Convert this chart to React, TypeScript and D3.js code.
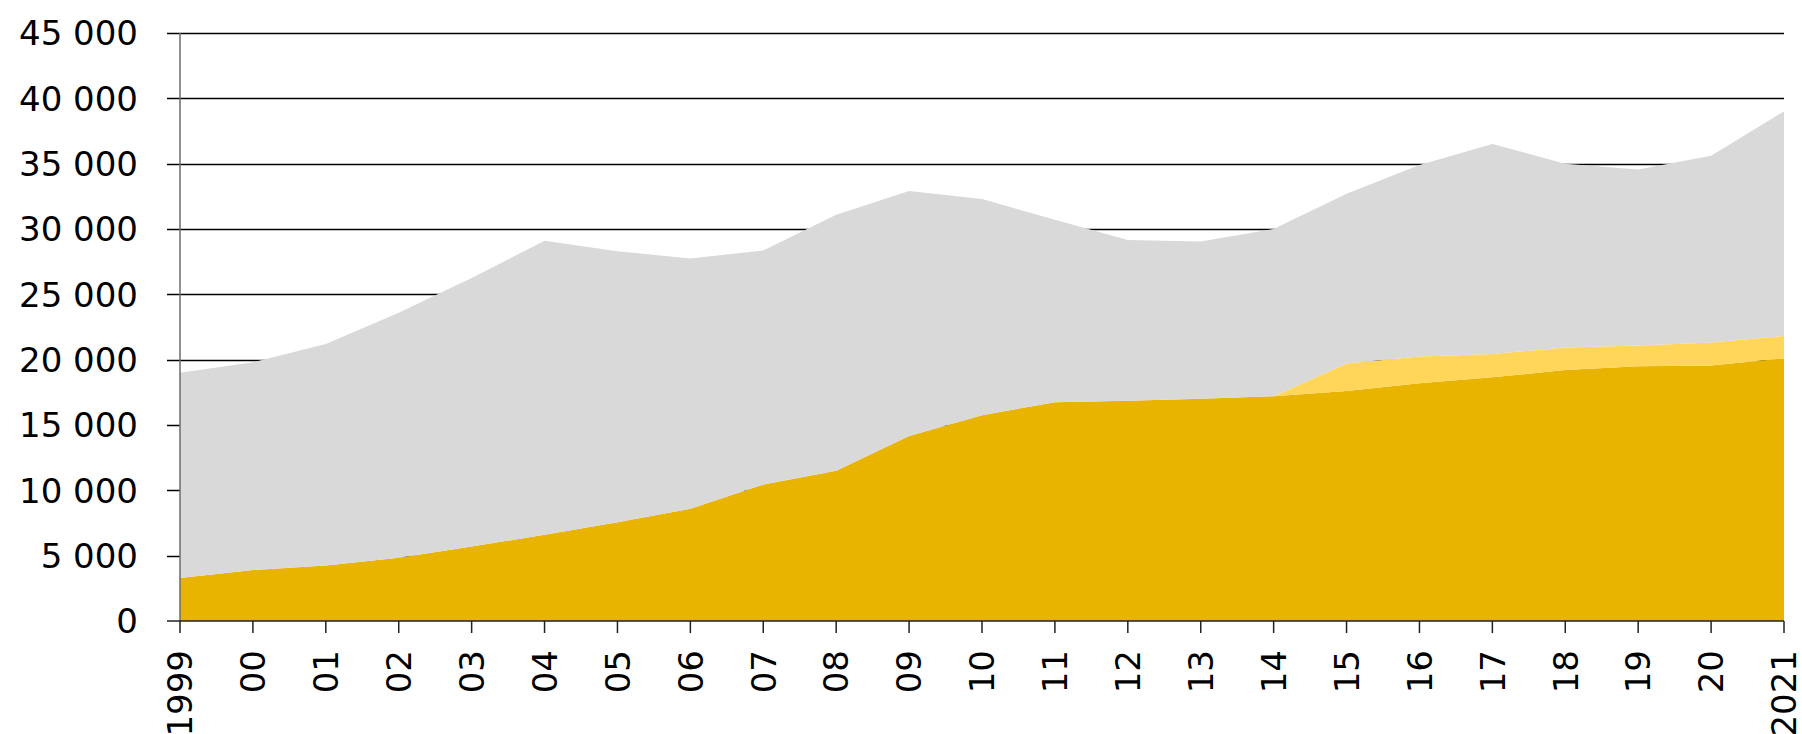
import { useEffect, useRef } from "react";
import * as d3 from "d3";

// years on the x axis
const years = [
  1999, 2000, 2001, 2002, 2003, 2004, 2005, 2006, 2007, 2008, 2009, 2010,
  2011, 2012, 2013, 2014, 2015, 2016, 2017, 2018, 2019, 2020, 2021,
];
const yearLabels = [
  "1999", "00", "01", "02", "03", "04", "05", "06", "07", "08", "09", "10",
  "11", "12", "13", "14", "15", "16", "17", "18", "19", "20", "2021",
];

// stacked series, bottom to top
const baseSeries = [
  3300, 3900, 4250, 4850, 5700, 6600, 7550, 8600, 10450, 11500, 14150, 15750,
  16750, 16850, 17000, 17200, 17600, 18200, 18650, 19200, 19500, 19550, 20100,
];
const middleSeries = [
  0, 0, 0, 0, 0, 0, 0, 0, 0, 0, 0, 0,
  0, 0, 0, 0, 2100, 2050, 1780, 1730, 1590, 1760, 1710,
];
const topSeries = [
  15700, 15900, 16950, 18750, 20550, 22500, 20750, 19150, 17900, 19600, 18750, 16550,
  13950, 12300, 12050, 12800, 13000, 14650, 16070, 14070, 13460, 14290, 17190,
];

const yTicks = [0, 5000, 10000, 15000, 20000, 25000, 30000, 35000, 40000, 45000];

const seriesKeys = ["base", "middle", "top"];
const seriesColors: Record<string, string> = {
  base: "#e8b400",
  middle: "#ffd659",
  top: "#d9d9d9",
};

const App = () => {
  const svgRef = useRef<SVGSVGElement | null>(null);

  const width = 1802;
  const height = 734;
  const left = 180;
  const right = 1784;
  const top = 33;
  const bottom = 621;

  useEffect(() => {
    if (!svgRef.current) return;
    const svg = d3.select(svgRef.current);
    svg.selectAll("*").remove();

    const x = d3.scaleLinear().domain([1999, 2021]).range([left, right]);
    const y = d3.scaleLinear().domain([0, 45000]).range([bottom, top]);

    const rows = years.map((yr, i) => ({
      year: yr,
      base: baseSeries[i],
      middle: middleSeries[i],
      top: topSeries[i],
    }));

    const stacked = d3.stack<any>().keys(seriesKeys)(rows);

    // gridlines (behind the areas)
    svg.append("g")
      .selectAll("line")
      .data(yTicks.filter((t) => t > 0))
      .join("line")
      .attr("x1", left - 13)
      .attr("x2", right)
      .attr("y1", (d) => Math.round(y(d)) + 0.5)
      .attr("y2", (d) => Math.round(y(d)) + 0.5)
      .attr("stroke", "#000")
      .attr("stroke-width", 1.3);

    const area = d3.area<any>()
      .x((d) => x(d.data.year))
      .y0((d) => y(d[0]))
      .y1((d) => y(d[1]));

    svg.append("g")
      .selectAll("path")
      .data(stacked)
      .join("path")
      .attr("fill", (d) => seriesColors[d.key])
      .attr("d", area as any);

    // y axis line
    svg.append("line")
      .attr("x1", left)
      .attr("x2", left)
      .attr("y1", top)
      .attr("y2", bottom)
      .attr("stroke", "#6b6b6b")
      .attr("stroke-width", 1.5);

    // baseline
    svg.append("line")
      .attr("x1", left - 13)
      .attr("x2", right)
      .attr("y1", bottom)
      .attr("y2", bottom)
      .attr("stroke", "#222")
      .attr("stroke-width", 1.5);

    // y tick labels
    svg.append("g")
      .selectAll("text")
      .data(yTicks)
      .join("text")
      .attr("x", 138)
      .attr("y", (d) => y(d))
      .attr("dy", "0.36em")
      .attr("text-anchor", "end")
      .attr("font-family", "DejaVu Sans, sans-serif")
      .attr("font-size", 34)
      .attr("fill", "#000")
      .text((d) => d3.format(",")(d).replace(/,/g, " "));

    // x ticks
    svg.append("g")
      .selectAll("line")
      .data(years)
      .join("line")
      .attr("x1", (d) => x(d))
      .attr("x2", (d) => x(d))
      .attr("y1", bottom)
      .attr("y2", bottom + 12)
      .attr("stroke", "#222")
      .attr("stroke-width", 1.5);

    // x labels, rotated
    svg.append("g")
      .selectAll("text")
      .data(years)
      .join("text")
      .attr("transform", (d) => `translate(${x(d)},${bottom + 29}) rotate(-90)`)
      .attr("dy", "0.36em")
      .attr("text-anchor", "end")
      .attr("font-family", "DejaVu Sans, sans-serif")
      .attr("font-size", 34)
      .attr("fill", "#000")
      .text((d, i) => yearLabels[i]);
  }, []);

  return (
    <div style={{ position: "absolute", left: 0, top: 0, width, height, background: "#fff" }}>
      <svg ref={svgRef} width={width} height={height} viewBox={`0 0 ${width} ${height}`} />
    </div>
  );
};

export default App;
